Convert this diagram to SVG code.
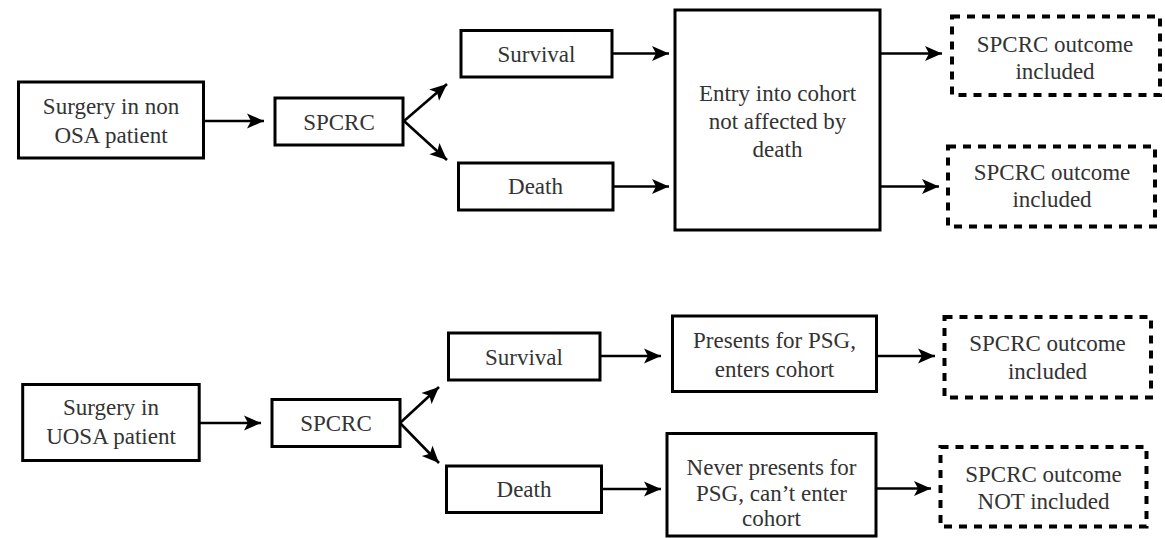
<svg xmlns="http://www.w3.org/2000/svg" width="1165" height="538" viewBox="0 0 1165 538" font-family="Liberation Serif, Times New Roman, serif">
<style>
.box{fill:#fff;stroke:#000;stroke-width:3}
.dash{fill:#fff;stroke:#000;stroke-width:4;stroke-dasharray:8 7}
.t{font-size:23px;fill:#333;text-anchor:middle}
.c{stroke:#000;stroke-width:2.6;fill:none;marker-end:url(#ah)}
</style>
<defs>
<marker id="ah" markerUnits="userSpaceOnUse" markerWidth="18" markerHeight="16" refX="17" refY="8" orient="auto">
<path d="M0,0.5 L17,8 L0,15.5 L4,8 Z" fill="#000"/>
</marker>
</defs>
<rect width="1165" height="538" fill="#fff"/>
<g id="connectors">
<line class="c" x1="203" y1="121" x2="264" y2="121"/>
<line class="c" x1="404" y1="121" x2="447" y2="84"/>
<line class="c" x1="404" y1="121" x2="447" y2="160"/>
<line class="c" x1="612" y1="53.5" x2="669" y2="53.5"/>
<line class="c" x1="613" y1="186.5" x2="669" y2="186.5"/>
<line class="c" x1="880" y1="53.5" x2="942" y2="53.5"/>
<line class="c" x1="880" y1="186.5" x2="939" y2="186.5"/>
<line class="c" x1="199" y1="423" x2="261" y2="423"/>
<line class="c" x1="400" y1="423" x2="439" y2="387"/>
<line class="c" x1="400" y1="423" x2="439" y2="463"/>
<line class="c" x1="600" y1="356" x2="661" y2="356"/>
<line class="c" x1="602" y1="489" x2="661" y2="489"/>
<line class="c" x1="877" y1="356" x2="935" y2="356"/>
<line class="c" x1="876" y1="488.5" x2="931" y2="488.5"/>
</g>
<g id="n1"><rect class="box" x="18.5" y="82" width="185" height="76"/>
<text class="t" x="111" y="113.5">Surgery in non</text><text class="t" x="111" y="142.5">OSA patient</text></g>
<g id="n2"><rect class="box" x="275" y="98" width="128" height="47"/>
<text class="t" x="339" y="129.5">SPCRC</text></g>
<g id="n3"><rect class="box" x="461" y="30.5" width="151" height="46.5"/>
<text class="t" x="536.5" y="61.7">Survival</text></g>
<g id="n4"><rect class="box" x="458.5" y="163" width="154.5" height="47"/>
<text class="t" x="535.5" y="194.3">Death</text></g>
<g id="n5"><rect class="box" x="675" y="10" width="205" height="220"/>
<text class="t" x="777.5" y="100.7">Entry into cohort</text><text class="t" x="777.5" y="129">not affected by</text><text class="t" x="777.5" y="156.7">death</text></g>
<g id="n6"><rect class="dash" x="952" y="16.5" width="208" height="78.5"/>
<text class="t" x="1055" y="51.7">SPCRC outcome</text><text class="t" x="1055" y="79.3">included</text></g>
<g id="n7"><rect class="dash" x="948" y="146.5" width="207" height="80"/>
<text class="t" x="1052" y="180">SPCRC outcome</text><text class="t" x="1052" y="206.7">included</text></g>
<g id="n8"><rect class="box" x="22.7" y="384.5" width="176.5" height="76"/>
<text class="t" x="111" y="415">Surgery in</text><text class="t" x="111" y="444">UOSA patient</text></g>
<g id="n9"><rect class="box" x="272" y="399.5" width="128" height="47"/>
<text class="t" x="336" y="431">SPCRC</text></g>
<g id="n10"><rect class="box" x="448.5" y="333" width="151.5" height="47"/>
<text class="t" x="524" y="364.5">Survival</text></g>
<g id="n11"><rect class="box" x="446.5" y="466" width="155" height="46.5"/>
<text class="t" x="524" y="497">Death</text></g>
<g id="n12"><rect class="box" x="672.5" y="316" width="204" height="75.5"/>
<text class="t" x="774.5" y="348.3">Presents for PSG,</text><text class="t" x="774.5" y="377.3">enters cohort</text></g>
<g id="n13"><rect class="box" x="667" y="433.5" width="209" height="102.5"/>
<text class="t" x="771.5" y="474.5">Never presents for</text><text class="t" x="771.5" y="500.5">PSG, can’t enter</text><text class="t" x="771.5" y="525.5">cohort</text></g>
<g id="n14"><rect class="dash" x="944.5" y="317" width="206.5" height="80.5"/>
<text class="t" x="1047.5" y="351">SPCRC outcome</text><text class="t" x="1047.5" y="379.3">included</text></g>
<g id="n15"><rect class="dash" x="940.5" y="447" width="206" height="79.5"/>
<text class="t" x="1043.5" y="481.7">SPCRC outcome</text><text class="t" x="1043.5" y="509.3">NOT included</text></g>
</svg>
